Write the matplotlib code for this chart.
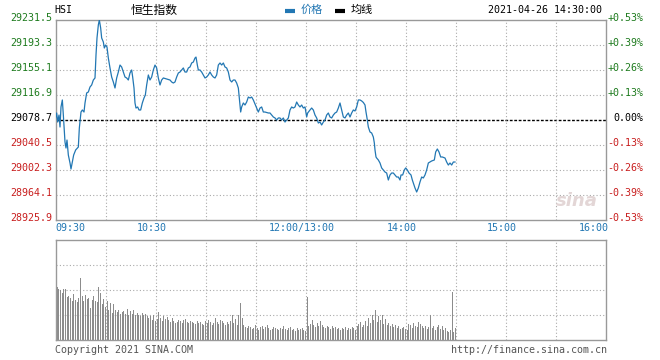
import numpy as np
import matplotlib
matplotlib.use('Agg')
import matplotlib.pyplot as plt
import matplotlib.transforms as mtransforms
from matplotlib.lines import Line2D

plt.rcParams['font.family'] = ['DejaVu Sans Mono']

######################## DATA ########################
prev_close = 29078.7
price_levels = [28925.9, 28964.1, 29002.3, 29040.5, 29078.7, 29116.9, 29155.1, 29193.3, 29231.5]
pct_labels = ['-0.53%', '-0.39%', '-0.26%', '-0.13%', '0.00%', '+0.13%', '+0.26%', '+0.39%', '+0.53%']
time_ticks = [0, 60, 150, 210, 270, 330]
time_labels = ['09:30', '10:30', '12:00/13:00', '14:00', '15:00', '16:00']

# trading minutes since 09:30 (lunch hour removed)
minutes = [
    0, 0.7, 1.3, 2.1, 2.7, 3.3, 4.1, 4.7, 5.7, 6.3, 6.9, 7.7, 8.7, 9.3, 10.1, 10.9, 12.1, 13.7, 14.3, 15.3,
    16.1, 17.1, 17.7, 18.7, 19.7, 20.7, 21.7, 22.7, 23.7, 24.3, 24.9, 25.7, 26.3, 27.1, 27.7, 28.7, 29.3, 30.1, 30.9, 31.7,
    32.7, 33.7, 34.7, 35.7, 36.7, 37.7, 38.7, 39.7, 40.7, 41.7, 42.7, 43.7, 44.7, 45.7, 46.3, 47.1, 47.7, 48.3, 49.3, 50.1,
    51.1, 52.1, 53.1, 53.9, 54.7, 55.7, 56.7,
    57.7, 58.7, 59.7, 60.7, 61.7, 62.7, 63.7, 64.7, 66.7, 68.7, 69.7, 70.7, 71.7, 72.7, 73.7, 74.7, 75.7, 76.7, 77.7, 78.7,
    79.7, 80.7, 81.7, 82.7, 83.7, 84.3, 85.1, 85.7, 86.7, 87.7, 88.7, 89.7, 90.7, 91.7, 92.7, 93.7, 94.7, 95.7, 96.7, 97.7,
    98.7, 99.7, 100.7, 101.7, 102.7, 103.7, 104.7, 105.7, 106.7, 107.7, 108.7, 109.7, 110.3, 111.1, 111.7, 112.7, 113.7,
    114.7, 115.7, 116.7, 117.7, 118.7, 119.7,
    120.7, 121.7, 122.7, 123.7, 124.7, 125.7, 127.7, 128.7, 129.7, 130.7, 131.7, 132.7, 133.7, 134.7, 135.7, 136.7, 137.7,
    138.7, 139.7, 140.7, 141.7, 142.7, 143.7, 144.7, 145.7, 146.7, 147.7, 148.7, 149.7,
    150.7, 151.3, 152.7, 153.7, 154.7, 155.7, 156.7, 157.7, 158.7, 159.7, 160.7, 161.7, 162.7, 163.7, 164.7, 165.7, 166.7,
    167.7, 168.7, 169.7, 170.7, 171.7, 172.7, 173.7, 174.7, 175.7, 176.7, 177.7, 178.7, 179.7, 180.7, 181.7, 182.7, 183.7,
    184.7, 185.7,
    186.3, 186.9, 187.7, 188.7, 189.7, 190.7, 191.3, 191.7, 192.3, 192.7, 193.7, 194.7, 195.7, 196.7, 197.7, 198.7, 199.7,
    200.7, 201.7, 202.7, 203.7, 204.7, 205.7, 206.7, 207.3, 208.3, 209.3, 210.1, 211.1, 212.1, 213.3, 214.1, 215.1, 215.7,
    216.7, 217.7, 218.7, 219.7, 220.7, 221.7, 222.7, 223.7, 224.7, 225.7, 227.3, 228.1, 229.1, 230.1, 231.1, 232.1, 233.7,
    234.7, 235.7, 236.7, 237.7, 238.7, 239.7]

prices = [
    29081.8, 29089.4, 29075.6, 29086.3, 29068.0, 29098.6, 29109.3, 29086.3, 29045.1, 29035.9, 29048.1, 29025.2, 29013.0,
    29003.8, 29014.5, 29025.2, 29032.9, 29037.4, 29066.5, 29090.9,
    29094.0, 29090.9, 29104.7, 29120.0, 29121.5, 29129.1, 29132.2, 29139.8, 29142.9, 29178.0, 29204.0, 29223.9, 29231.5,
    29219.3, 29204.0, 29197.9, 29188.7, 29193.3, 29190.2, 29173.4,
    29158.2, 29144.4, 29136.8, 29127.6, 29142.9, 29152.0, 29162.7, 29159.7, 29152.0, 29144.4, 29142.9, 29139.8, 29150.5,
    29155.1, 29144.4, 29127.6, 29104.7, 29097.0, 29098.6, 29094.0,
    29094.0, 29104.7, 29112.3, 29116.9, 29132.2, 29147.5, 29139.8,
    29144.4, 29155.1, 29162.7, 29158.2, 29142.9, 29132.2, 29139.8, 29142.9, 29141.3, 29139.8, 29136.8, 29135.2, 29136.8,
    29144.4, 29150.5, 29152.0, 29155.1, 29158.2, 29152.0, 29152.0,
    29158.2, 29159.7, 29165.8, 29167.3, 29173.4, 29174.9, 29162.7, 29155.1, 29155.1, 29152.0, 29147.5, 29142.9, 29144.4,
    29147.5, 29152.0, 29147.5, 29144.4, 29142.9, 29147.5, 29162.7,
    29165.8, 29162.7, 29165.8, 29159.7, 29158.2, 29152.0, 29139.8, 29136.8, 29139.8, 29139.8, 29135.2, 29127.6, 29112.3,
    29090.9, 29098.6, 29104.7, 29101.6,
    29106.2, 29113.8, 29112.3, 29113.8, 29109.3, 29103.1,
    29097.0, 29090.9, 29097.0, 29098.6, 29090.9, 29090.9, 29089.4, 29089.4, 29086.3, 29083.3, 29081.8, 29078.7, 29081.8,
    29081.8, 29078.7, 29081.8, 29075.6,
    29078.7, 29081.8, 29094.0, 29098.6, 29097.0, 29098.6, 29106.2, 29101.6, 29098.6, 29101.6, 29097.0, 29098.6,
    29083.3, 29089.4, 29094.0, 29097.0, 29094.0, 29086.3, 29081.8, 29074.1, 29075.6, 29071.1, 29075.6, 29078.7, 29086.3,
    29089.4, 29083.3, 29081.8, 29086.3,
    29089.4, 29090.9, 29097.0, 29104.7, 29094.0, 29083.3, 29081.8, 29086.3, 29089.4, 29083.3, 29089.4, 29094.0, 29092.5,
    29098.6, 29109.3, 29109.3, 29107.8,
    29105.5, 29101.6,
    29090.9, 29081.8, 29068.0, 29060.4, 29058.8, 29052.7, 29043.6, 29032.9, 29022.2, 29020.6, 29017.6, 29013.0, 29005.4,
    29002.3, 28999.2, 28997.7, 28987.0,
    28994.7, 28997.7, 28997.7, 28994.7, 28991.6, 28991.6, 28987.0, 28994.7, 28994.7, 29002.3, 29005.4, 29002.3, 28997.7,
    28994.7, 28987.0, 28979.4, 28974.8,
    28968.7, 28974.8, 28984.0, 28991.6, 28990.1, 28994.7, 29002.3, 29013.0, 29014.5, 29016.1, 29017.6, 29029.8, 29034.4,
    29029.8, 29022.2, 29022.2, 29020.6,
    29014.5, 29009.9, 29013.0, 29009.9, 29014.5, 29014.5]

# per-minute volume, as % of the volume panel height
volume = [
    53, 51, 50, 47, 51, 51,
    43, 44, 42, 39, 46, 40, 38, 42,
    62,
    44, 39, 45, 41, 42, 32, 40, 44, 39, 38,
    53,
    47, 36, 41, 33, 39, 30, 37, 27, 36, 30,
    28, 30, 26, 28, 29, 26, 31, 25, 29, 26,
    30, 25, 27, 25, 24, 27, 25, 26, 24, 22,
    24, 20, 25, 19, 21, 28, 22, 19, 24, 21,
    23, 20, 18, 22, 19, 17, 18, 20, 19, 17,
    20, 21, 18, 17, 19, 18, 17, 16, 19, 17,
    18, 16, 15, 19, 17, 20, 18, 15, 17, 22,
    18, 16, 20, 19, 17, 15, 18, 16, 19, 25,
    17, 21, 15, 25, 37, 22, 15, 13, 12, 14,
    13, 11, 12, 15, 12, 10, 13, 14, 11, 13,
    15, 12, 10, 11, 13, 12, 11, 10, 12, 11,
    14, 11, 10, 12, 13, 10, 11, 9, 12, 10, 11, 12, 10, 9,
    43,
    14, 16, 20, 15, 13, 17, 14, 19, 15, 13,
    12, 14, 13, 11, 14, 12, 13, 11, 12, 10,
    12, 11, 13, 10, 12, 11, 13, 12, 10, 14,
    16, 18, 13, 15, 19, 14, 22, 17, 25, 20,
    30, 18, 24, 20, 25, 16, 21, 15, 17, 14,
    16, 13, 15, 12, 14, 11, 12, 13, 11, 10,
    16, 15, 12, 17, 14, 13, 18, 16, 14, 12,
    14, 11, 13, 25, 12, 14, 10, 13, 15, 11,
    14, 10, 12, 9, 8, 10, 48, 8, 12]

######################## STYLE ########################
W, H = 660, 360
blue = '#2277b3'
green = '#1e7b1e'
red = '#c81e1e'
frame = '#999999'
gridc = '#aaaaaa'
mono = 7.2


def fx(x):
    return x / W


def fy(y):
    return 1 - y / H


fig = plt.figure(figsize=(6.6, 3.6), dpi=100)
fig.patch.set_facecolor('white')

######################## PRICE PANEL ########################
ax = fig.add_axes([fx(55.5), fy(220), 550 / W, 200 / H])
ax.set_xlim(0, 330)
ax.set_ylim(price_levels[0], price_levels[-1])
ax.set_xticks([])
ax.set_yticks([])
for s in ax.spines.values():
    s.set_color(frame)
    s.set_linewidth(1)

for lev in price_levels[1:-1]:
    if lev == prev_close:
        ax.axhline(lev, color='black', ls=(0, (2, 1.2)), lw=1, zorder=1)
    else:
        ax.axhline(lev, color=gridc, ls=(0, (1, 2)), lw=0.8, zorder=1)
for t in range(30, 330, 30):
    ax.axvline(t, color=gridc, ls=(0, (1, 2)), lw=0.8, zorder=1)

ax.plot(minutes, prices, color=blue, lw=0.9, zorder=3)

# y labels on both sides
tr = mtransforms.blended_transform_factory(ax.transAxes, ax.transData)
left_off = mtransforms.ScaledTranslation(-3 / 100, 2 / 100, fig.dpi_scale_trans)
right_off = mtransforms.ScaledTranslation(38 / 100, 2 / 100, fig.dpi_scale_trans)
for lev, pct in zip(price_levels, pct_labels):
    if lev > prev_close:
        c = green
    elif lev < prev_close:
        c = red
    else:
        c = 'black'
    ax.text(0, lev, '%.1f' % lev, transform=tr + left_off, ha='right', va='center',
            color=c, fontsize=mono, clip_on=False)
    ax.text(1, lev, pct, transform=tr + right_off, ha='right', va='center',
            color=c, fontsize=mono, clip_on=False)

# time labels
xtr = mtransforms.blended_transform_factory(ax.transData, ax.transAxes)
for t, lab in zip(time_ticks, time_labels):
    if t == time_ticks[0]:
        ha, dx = 'left', 0
    elif t == time_ticks[-1]:
        ha, dx = 'right', 3
    else:
        ha, dx = 'center', -4
    off = mtransforms.ScaledTranslation(dx / 100, -8 / 100, fig.dpi_scale_trans)
    ax.text(t, 0, lab, transform=xtr + off, ha=ha, va='center', color=blue,
            fontsize=mono, clip_on=False)

# faint sina watermark
ax.text(0.985, 0.05, 'sina', transform=ax.transAxes, ha='right', va='bottom',
        fontsize=13, fontstyle='italic', fontweight='bold', color='#e3d6d6',
        family='DejaVu Sans', zorder=2)

######################## VOLUME PANEL ########################
vax = fig.add_axes([fx(55.5), fy(340), 550 / W, 100 / H])
vax.set_xlim(0, 330)
vax.set_ylim(0, 100)
vax.set_xticks([])
vax.set_yticks([])
for s in vax.spines.values():
    s.set_color(frame)
    s.set_linewidth(1)
for v in [25, 50, 75]:
    vax.axhline(v, color=gridc, ls=(0, (1, 2)), lw=0.8, zorder=1)
for t in range(30, 330, 30):
    vax.axvline(t, color=gridc, ls=(0, (1, 2)), lw=0.8, zorder=1)
vax.bar(np.arange(len(volume)) + 1, volume, width=0.6, color='#8c8c8c',
        linewidth=0, antialiased=False, zorder=2)

######################## HEADER / FOOTER ########################
fig.text(fx(54), fy(10), 'HSI', ha='left', va='center', fontsize=mono)
fig.text(fx(131), fy(10), '恒生指数', ha='left', va='center', fontsize=8.5,
         family=['Noto Sans CJK SC', 'DejaVu Sans'])
fig.add_artist(Line2D([fx(285), fx(295)], [fy(11), fy(11)], color=blue, lw=3, solid_capstyle='butt'))
fig.text(fx(301), fy(10), '价格', ha='left', va='center', fontsize=8, color=blue,
         family=['Noto Sans CJK SC', 'DejaVu Sans'])
fig.add_artist(Line2D([fx(335), fx(345)], [fy(11), fy(11)], color='black', lw=3, solid_capstyle='butt'))
fig.text(fx(351), fy(10), '均线', ha='left', va='center', fontsize=8,
         family=['Noto Sans CJK SC', 'DejaVu Sans'])
fig.text(fx(602), fy(10), '2021-04-26 14:30:00', ha='right', va='center', fontsize=mono)

fig.text(fx(55), fy(350), 'Copyright 2021 SINA.COM', ha='left', va='center', fontsize=mono, color='#555555')
fig.text(fx(607), fy(350), 'http://finance.sina.com.cn', ha='right', va='center', fontsize=mono, color='#555555')

fig.savefig('out.png', dpi=100)
